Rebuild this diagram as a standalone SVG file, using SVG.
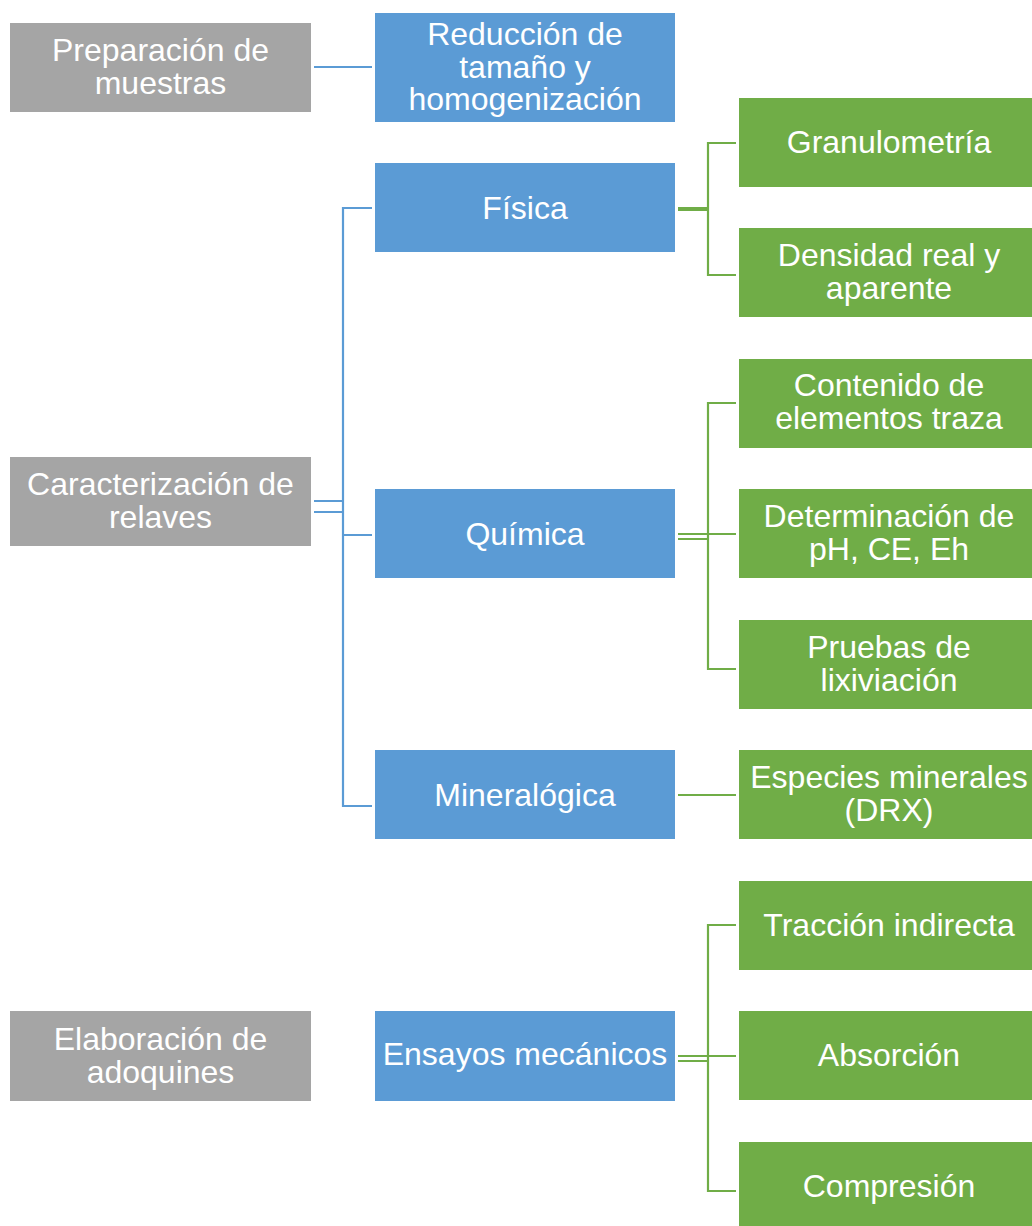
<svg xmlns="http://www.w3.org/2000/svg" width="1032" height="1226" viewBox="0 0 1032 1226">
<style>
.g{fill:#A5A5A5}.b{fill:#5B9BD5}.n{fill:#70AD47}
text{font-family:"Liberation Sans",Arial,sans-serif;font-size:32px;fill:#fff;text-anchor:middle}
.cb{stroke:#5B9BD5;stroke-width:2.2;fill:none}
.cg{stroke:#70AD47;stroke-width:2.2;fill:none}
</style>
<rect width="1032" height="1226" fill="#fff"/>
<g id="connectors">
<path class="cb" d="M314 67H372"/>
<path class="cb" d="M314 501H343M314 512H343M372 208H343V806H372M343 535H372"/>
<path class="cg" d="M678 208H708M678 210H708M736 143H708V275H736"/>
<path class="cg" d="M678 534H708M678 539H708M736 403H708V669H736M708 534H736"/>
<path class="cg" d="M678 795H736"/>
<path class="cg" d="M678 1056H708M678 1061H708M736 925H708V1191H736M708 1056H736"/>
</g>
<g id="preparacion"><rect class="g" x="10" y="23" width="301" height="89"/><text x="160.5" y="61">Preparación de</text><text x="160.5" y="94">muestras</text></g>
<g id="caracterizacion"><rect class="g" x="10" y="457" width="301" height="89"/><text x="160.5" y="495">Caracterización de</text><text x="160.5" y="528">relaves</text></g>
<g id="elaboracion"><rect class="g" x="10" y="1011" width="301" height="90"/><text x="160.5" y="1050">Elaboración de</text><text x="160.5" y="1083">adoquines</text></g>
<g id="reduccion"><rect class="b" x="375" y="13" width="300" height="109"/><text x="525" y="45">Reducción de</text><text x="525" y="78">tamaño y</text><text x="525" y="110">homogenización</text></g>
<g id="fisica"><rect class="b" x="375" y="163" width="300" height="89"/><text x="525" y="219">Física</text></g>
<g id="quimica"><rect class="b" x="375" y="489" width="300" height="89"/><text x="525" y="545">Química</text></g>
<g id="mineralogica"><rect class="b" x="375" y="750" width="300" height="89"/><text x="525" y="806">Mineralógica</text></g>
<g id="ensayos"><rect class="b" x="375" y="1011" width="300" height="90"/><text x="525" y="1065">Ensayos mecánicos</text></g>
<g id="granulometria"><rect class="n" x="739" y="98" width="293" height="89"/><text x="889" y="153">Granulometría</text></g>
<g id="densidad"><rect class="n" x="739" y="228" width="293" height="89"/><text x="889" y="266">Densidad real y</text><text x="889" y="299">aparente</text></g>
<g id="contenido"><rect class="n" x="739" y="359" width="293" height="89"/><text x="889" y="396">Contenido de</text><text x="889" y="429">elementos traza</text></g>
<g id="determinacion"><rect class="n" x="739" y="489" width="293" height="89"/><text x="889" y="527">Determinación de</text><text x="889" y="560">pH, CE, Eh</text></g>
<g id="pruebas"><rect class="n" x="739" y="620" width="293" height="89"/><text x="889" y="658">Pruebas de</text><text x="889" y="691">lixiviación</text></g>
<g id="especies"><rect class="n" x="739" y="750" width="293" height="89"/><text x="889" y="788">Especies minerales</text><text x="889" y="821">(DRX)</text></g>
<g id="traccion"><rect class="n" x="739" y="881" width="293" height="89"/><text x="889" y="936">Tracción indirecta</text></g>
<g id="absorcion"><rect class="n" x="739" y="1011" width="293" height="89"/><text x="889" y="1066">Absorción</text></g>
<g id="compresion"><rect class="n" x="739" y="1142" width="293" height="84"/><text x="889" y="1197">Compresión</text></g>
</svg>
